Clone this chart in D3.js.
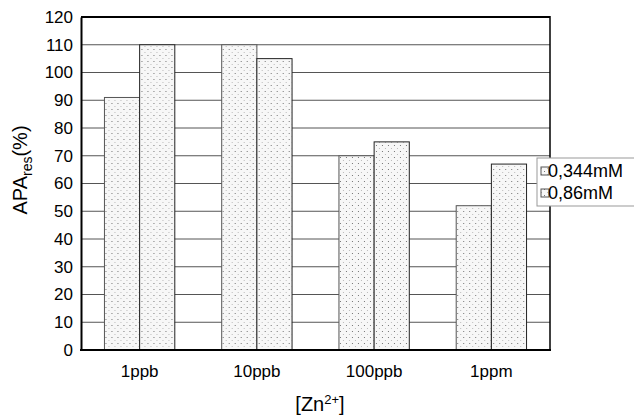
<!DOCTYPE html>
<html>
<head>
<meta charset="utf-8">
<script src="https://cdn.jsdelivr.net/npm/d3@7"></script>
<style>
  html, body { margin: 0; padding: 0; background: #fff; }
  svg { display: block; font-family: "Liberation Sans", Arial, Helvetica, sans-serif; }
</style>
</head>
<body>
<svg id="chart" width="634" height="418"></svg>
<script>
// Zn2+ concentrations on the x axis
const categories = ["1ppb", "10ppb", "100ppb", "1ppm"];
// Residual APA (%) for each phosphate concentration
const seriesNames = ["0,344mM", "0,86mM"];
const series344 = [91, 110, 70, 52];
const series086 = [110, 105, 75, 67];
const yTicks = [0, 10, 20, 30, 40, 50, 60, 70, 80, 90, 100, 110, 120];

const svg = d3.select("#chart");
const margin = { left: 81, top: 17, right: 84, bottom: 68 };
const W = 634, H = 418;
const x0 = margin.left, x1 = W - margin.right;
const y0 = H - margin.bottom, y1 = margin.top;

const y = d3.scaleLinear().domain([0, 120]).range([y0, y1]);
const x = d3.scaleBand().domain(categories).range([x0, x1])
  .paddingInner(0.4).paddingOuter(0.2);
const xs = d3.scaleBand().domain(seriesNames).range([0, x.bandwidth()]);

// Dotted fill used for the bars
const defs = svg.append("defs");
const pat = defs.append("pattern")
  .attr("id", "dots").attr("patternUnits", "userSpaceOnUse")
  .attr("width", 6).attr("height", 6);
pat.append("rect").attr("width", 6).attr("height", 6).attr("fill", "#f7f7f7");
pat.append("rect").attr("x", 1).attr("y", 1).attr("width", 1).attr("height", 1).attr("fill", "#777");
pat.append("rect").attr("x", 4).attr("y", 4).attr("width", 1).attr("height", 1).attr("fill", "#bbb");

// Horizontal grid lines
svg.append("g").selectAll("line").data(yTicks.filter(d => d > 0 && d < 120)).join("line")
  .attr("x1", x0).attr("x2", x1)
  .attr("y1", d => y(d)).attr("y2", d => y(d))
  .attr("stroke", "#555").attr("stroke-width", 1);

// Bars
const rows = categories.map((c, i) => ({ c, vals: [series344[i], series086[i]] }));
const groups = svg.append("g").selectAll("g").data(rows).join("g")
  .attr("transform", d => `translate(${x(d.c)},0)`);
groups.selectAll("rect").data(d => d.vals.map((v, j) => ({ v, name: seriesNames[j] }))).join("rect")
  .attr("x", d => xs(d.name))
  .attr("width", xs.bandwidth())
  .attr("y", d => y(d.v))
  .attr("height", d => y(0) - y(d.v))
  .attr("fill", "url(#dots)")
  .attr("stroke", (d, j) => j === 0 ? "#555" : "#222")
  .attr("stroke-width", 1);

// Plot frame
svg.append("line").attr("x1", x0).attr("x2", x1).attr("y1", y1).attr("y2", y1)
  .attr("stroke", "#000").attr("stroke-width", 2);
svg.append("line").attr("x1", x1).attr("x2", x1).attr("y1", y1 - 1).attr("y2", y0)
  .attr("stroke", "#000").attr("stroke-width", 1.5);

const tickFont = 17;

// Y axis
const yAxis = svg.append("g").attr("transform", `translate(${x0},0)`)
  .call(d3.axisLeft(y).tickValues(yTicks).tickSize(0).tickPadding(8));
yAxis.select(".domain").attr("stroke", "#000").attr("stroke-width", 2);
yAxis.selectAll("text").attr("font-size", tickFont).attr("fill", "#000")
  .attr("font-family", "Liberation Sans, Arial, sans-serif");

// X axis
const xAxis = svg.append("g").attr("transform", `translate(0,${y0})`)
  .call(d3.axisBottom(x).tickSize(0).tickPadding(15));
xAxis.select(".domain").attr("stroke", "#000").attr("stroke-width", 2)
  .attr("d", `M${x0 - 1},0H${x1 + 1}`);
xAxis.selectAll("text").attr("font-size", tickFont).attr("fill", "#000")
  .attr("font-family", "Liberation Sans, Arial, sans-serif");

// Axis titles
const yt = svg.append("text")
  .attr("transform", `translate(27,170) rotate(-90)`)
  .attr("text-anchor", "middle").attr("font-size", 20);
yt.append("tspan").text("APA");
yt.append("tspan").attr("font-size", 14).attr("dy", 5).text("res");
yt.append("tspan").attr("dy", -5).text("(%)");

const xt = svg.append("text")
  .attr("x", 320).attr("y", 411)
  .attr("text-anchor", "middle").attr("font-size", 20);
xt.append("tspan").text("[Zn");
xt.append("tspan").attr("font-size", 13).attr("dy", -7).text("2+");
xt.append("tspan").attr("dy", 7).text("]");

// Legend
const lg = svg.append("g").attr("transform", "translate(537,158)");
lg.append("rect").attr("x", 0).attr("y", 0).attr("width", 100).attr("height", 48)
  .attr("fill", "#fff").attr("stroke", "#999").attr("stroke-width", 1);
seriesNames.forEach((n, i) => {
  const gy = 13 + i * 22;
  lg.append("rect").attr("x", 4).attr("y", gy - 4).attr("width", 8).attr("height", 8)
    .attr("fill", "url(#dots)").attr("stroke", "#555");
  lg.append("text").attr("x", 11).attr("y", gy + 6).attr("font-size", 18).text(n);
});
</script>
</body>
</html>
